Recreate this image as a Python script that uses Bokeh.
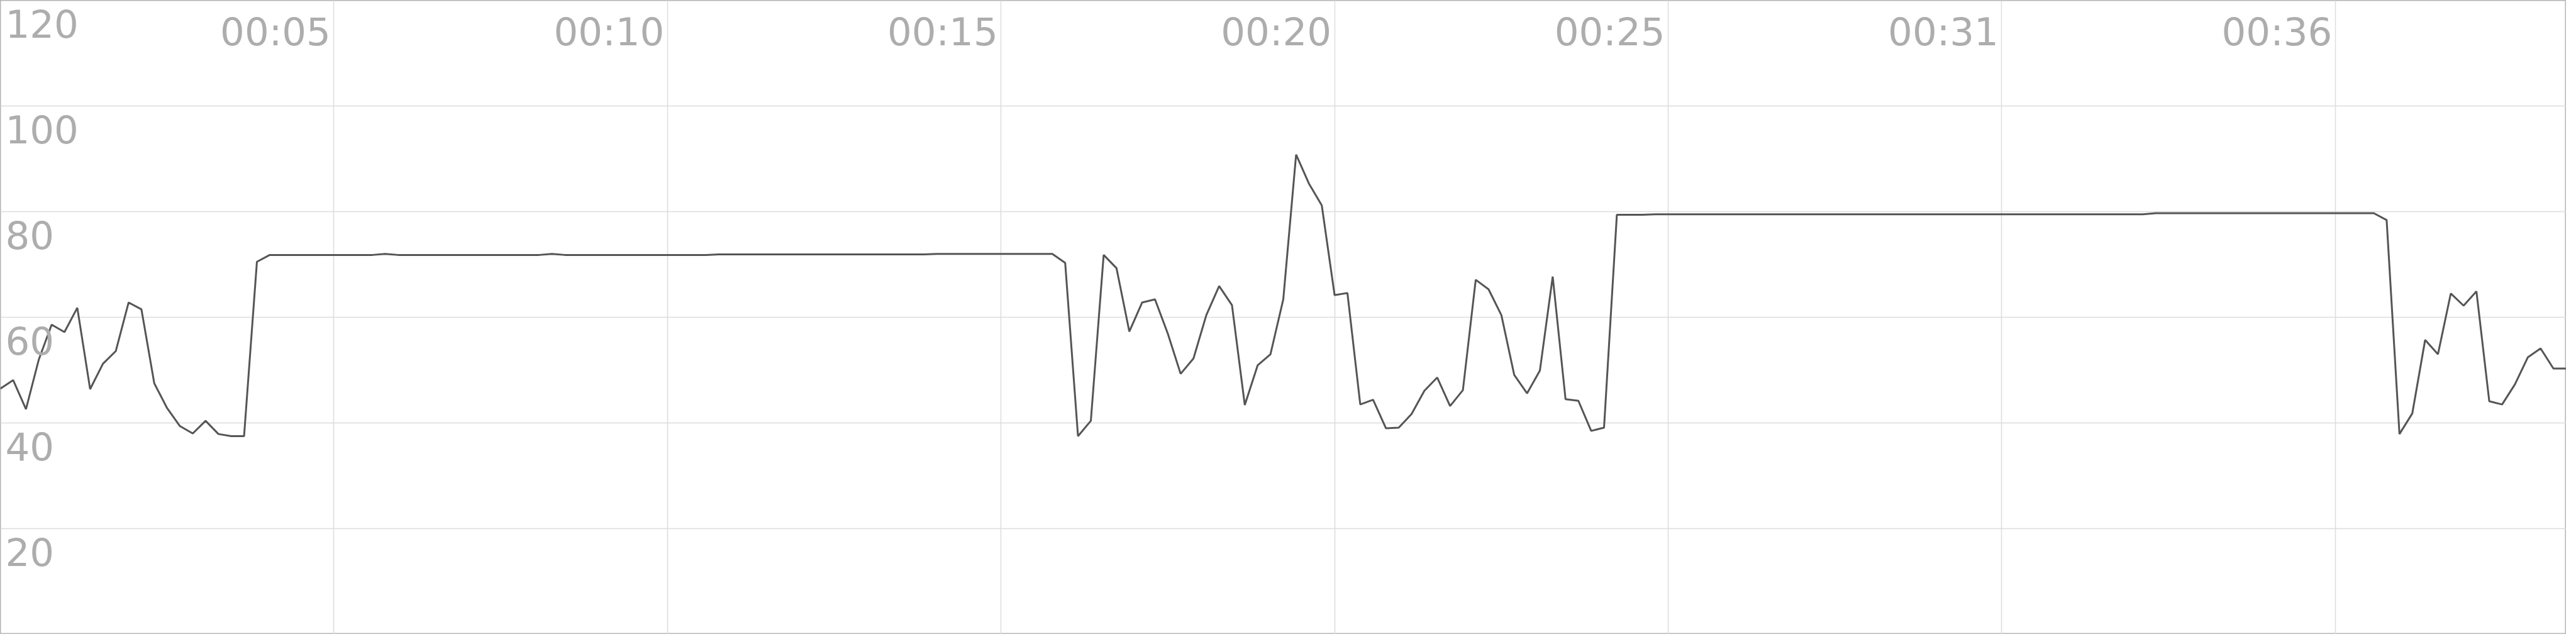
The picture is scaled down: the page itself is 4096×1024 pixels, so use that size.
from bokeh.plotting import figure
from bokeh.models import Range1d, FixedTicker, ColumnDataSource
from bokeh.core.properties import value
from bokeh.embed import file_html
from bokeh.resources import INLINE

# sample interval (s)
dt = 0.2

# series values, one per sample (201 samples)
vals_start = [46.5, 48.1, 42.6, 52.0, 58.6, 57.2, 61.8, 46.4, 51.2, 53.6, 62.8,
              61.5, 47.5, 42.8, 39.4, 38.0, 40.4, 37.9, 37.5, 37.5, 70.5]
vals_plateau1 = [71.8, 71.8, 71.8, 71.8, 71.8, 71.8, 71.8, 71.8, 71.8, 72.0,
                 71.8, 71.8, 71.8, 71.8, 71.8, 71.8, 71.8, 71.8, 71.8, 71.8,
                 71.8, 71.8, 72.0, 71.8, 71.8, 71.8, 71.8, 71.8, 71.8, 71.8,
                 71.8, 71.8, 71.8, 71.8, 71.8, 71.9, 71.9, 71.9, 71.9, 71.9,
                 71.9, 71.9, 71.9, 71.9, 71.9, 71.9, 71.9, 71.9, 71.9, 71.9,
                 71.9, 71.9, 72.0, 72.0, 72.0, 72.0, 72.0, 72.0, 72.0, 72.0,
                 72.0, 72.0]
vals_middle = [70.3, 37.5, 40.4, 71.8, 69.3, 57.3, 62.8, 63.4, 56.9, 49.3,
               52.2, 60.4, 65.9, 62.3, 43.4, 50.9, 53.0, 63.4, 90.8, 85.3,
               81.2, 64.2, 64.6, 43.5, 44.4, 39.0, 39.1, 41.7, 46.1, 48.6,
               43.2, 46.2, 67.1, 65.3, 60.4, 49.1, 45.6, 49.9, 67.7, 44.5,
               44.2, 38.5, 39.1]
vals_plateau2 = [79.4, 79.4, 79.4, 79.5, 79.5, 79.5, 79.5, 79.5, 79.5, 79.5,
                 79.5, 79.5, 79.5, 79.5, 79.5, 79.5, 79.5, 79.5, 79.5, 79.5,
                 79.5, 79.5, 79.5, 79.5, 79.5, 79.5, 79.5, 79.5, 79.5, 79.5,
                 79.5, 79.5, 79.5, 79.5, 79.5, 79.5, 79.5, 79.5, 79.5, 79.5,
                 79.5, 79.5, 79.7, 79.7, 79.7, 79.7, 79.7, 79.7, 79.7, 79.7,
                 79.7, 79.7, 79.7, 79.7, 79.7, 79.7, 79.7, 79.7, 79.7, 79.7]
vals_end = [78.4, 37.9, 41.8, 55.7, 53.0, 64.5, 62.2, 64.9, 44.1, 43.5,
            47.3, 52.4, 54.1, 50.3, 50.3]

values = vals_start + vals_plateau1 + vals_middle + vals_plateau2 + vals_end
times = [i * dt for i in range(len(values))]

# x ticks (seconds) and their labels
x_ticks = [5.2, 10.4, 15.6, 20.8, 26.0, 31.2, 36.4]
x_labels = ["00:05", "00:10", "00:15", "00:20", "00:25", "00:31", "00:36"]

# y ticks and labels
y_ticks = [20, 40, 60, 80, 100, 120]
y_labels = ["20", "40", "60", "80", "100", "120"]

p = figure(width=4080, height=1008, output_backend="svg", toolbar_location=None,
           x_range=Range1d(0, times[-1]), y_range=Range1d(0, 120),
           min_border=0)
p.xaxis.visible = False
p.yaxis.visible = False
p.xgrid.ticker = FixedTicker(ticks=x_ticks)
p.ygrid.ticker = FixedTicker(ticks=y_ticks)
for g in (p.xgrid, p.ygrid):
    g.grid_line_color = "#dcdcdc"
    g.grid_line_width = 1.5
p.outline_line_color = "#b4b4b4"
p.outline_line_width = 2
p.background_fill_color = "white"
p.border_fill_color = "white"

src = ColumnDataSource(data=dict(t=times, v=values))
p.line("t", "v", source=src, line_color="#555555", line_width=3)

font = value("DejaVu Sans")
p.text(x=x_ticks, y=[120] * len(x_ticks), text=x_labels,
       text_align="right", text_baseline="top", x_offset=-5, y_offset=14,
       text_font_size="61px", text_color="#adadad", text_font=font)
p.text(x=[0] * len(y_ticks), y=y_ticks, text=y_labels,
       text_align="left", text_baseline="top", x_offset=8, y_offset=14,
       text_font_size="61px", text_color="#adadad", text_font=font)

open("out.html", "w").write(file_html(p, INLINE))
